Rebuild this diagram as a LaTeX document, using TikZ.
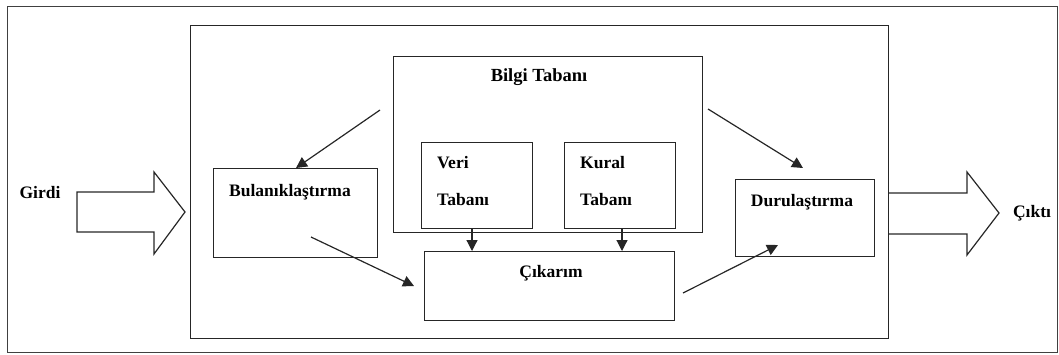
\documentclass[tikz,border=0pt]{standalone}
\usepackage{fontspec}
\newfontfamily\yazitipi{Liberation Serif}
\usepackage{tikz}
\usetikzlibrary{positioning, arrows.meta, calc}

\begin{document}
\begin{tikzpicture}[x=1pt, y=-1pt, >={Triangle[length=11pt, width=11pt]}, font=\yazitipi\bfseries\fontsize{17.5}{20}\selectfont]
    % Stiller
    \tikzstyle{kutu}=[draw=black!85, line width=1.4pt, inner sep=0pt, anchor=north west]
    \tikzstyle{ok}=[->, line width=1.2pt, draw=black!85]
    \tikzstyle{blokok}=[draw=black!85, line width=1.2pt, line join=miter]
    \tikzstyle{yazi}=[inner sep=0pt]

    \useasboundingbox (0,0) rectangle (1059,354);

    % Kutular
    \node[kutu, draw=black!75, line width=1pt, minimum width=1050pt, minimum height=346pt] (cerceve) at (7,6) {};
    \node[kutu, minimum width=698pt, minimum height=313pt] (sistem) at (190,25) {};
    \node[kutu, minimum width=164pt, minimum height=89pt] (bulanik) at (213,168) {};
    \node[kutu, minimum width=309pt, minimum height=176pt] (bilgi) at (393,56) {};
    \node[kutu, minimum width=111pt, minimum height=86pt] (veri) at (421,142) {};
    \node[kutu, minimum width=111pt, minimum height=86pt] (kural) at (564,142) {};
    \node[kutu, minimum width=250pt, minimum height=69pt] (cikarim) at (424,251) {};
    \node[kutu, minimum width=139pt, minimum height=77pt] (durulastirma) at (735,179) {};

    % Yazilar
    \node[yazi, font=\yazitipi\bfseries\fontsize{18.5}{20}\selectfont] (bilgiyazi) at (539,77) {Bilgi Tabanı};
    \node[yazi, anchor=west] (veriyazi1) at (437,163) {Veri};
    \node[yazi, anchor=west] (veriyazi2) at (437,200) {Tabanı};
    \node[yazi, anchor=west] (kuralyazi1) at (580,163) {Kural};
    \node[yazi, anchor=west] (kuralyazi2) at (580,200) {Tabanı};
    \node[yazi, anchor=west] (bulanikyazi) at (229,192) {Bulanıklaştırma};
    \node[yazi] (cikarimyazi) at (551,273) {Çıkarım};
    \node[yazi] (duruyazi) at (802,202) {Durulaştırma};
    \node[yazi] (girdi) at (40,193) {Girdi};
    \node[yazi] (cikti) at (1032,213) {Çıktı};

    % Serbest uclar
    \coordinate (b1) at (380,110);
    \coordinate (b2) at (708,109);
    \coordinate (u1) at (311,237);
    \coordinate (u2) at (414,286);
    \coordinate (c1) at (683,293);
    \coordinate (c2) at (778,245);
    \coordinate (d1) at (803,168);
    \coordinate (k1) at (296,168);

    % Oklar
    \draw[ok] (b1) -- (k1);
    \draw[ok] (b2) -- (d1);
    \draw[ok] (u1) -- (u2);
    \draw[ok] (c1) -- (c2);
    \draw[ok] (veri.south -| 472,0) -- (cikarim.north -| 472,0);
    \draw[ok] (kural.south -| 622,0) -- (cikarim.north -| 622,0);

    % Girdi ve cikti oklari
    \draw[blokok] (77,192) -- (154,192) -- (154,172) -- (185,212) -- (154,254) -- (154,232) -- (77,232) -- cycle;
    \draw[blokok] (888,193) -- (967,193) -- (967,172) -- (999,213) -- (967,255) -- (967,234) -- (888,234);

\end{tikzpicture}
\end{document}
